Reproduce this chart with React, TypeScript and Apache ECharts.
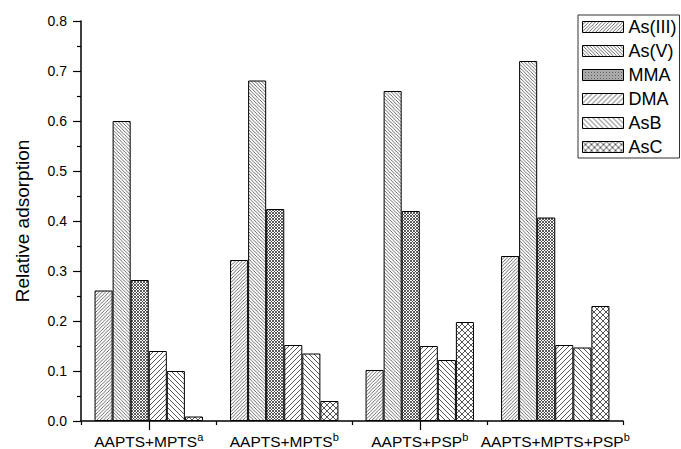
import React, { useEffect, useRef } from "react";
import * as echarts from "echarts";

const categories = ["AAPTS+MPTS|a", "AAPTS+MPTS|b", "AAPTS+PSP|b", "AAPTS+MPTS+PSP|b"];
const seriesNames = ["As(III)", "As(V)", "MMA", "DMA", "AsB", "AsC"];
const asIII = [0.261, 0.322, 0.102, 0.33];
const asV = [0.6, 0.681, 0.66, 0.72];
const mma = [0.282, 0.424, 0.42, 0.407];
const dma = [0.14, 0.152, 0.15, 0.152];
const asB = [0.1, 0.135, 0.122, 0.147];
const asC = [0.009, 0.04, 0.198, 0.23];
const yTicks = { min: 0, max: 0.8, interval: 0.1 };

const FONT = "'Liberation Sans', Arial, Helvetica, sans-serif";

function svgUrl(svg: string) {
  return "data:image/svg+xml;charset=utf-8," + encodeURIComponent(svg);
}

function hatch(s: number, dir: "/" | "\\" | "x", stroke: string, w: number) {
  const fwd = `M0,${s} L${s},0 M${-s / 2},${s / 2} L${s / 2},${-s / 2} M${s / 2},${s * 1.5} L${s * 1.5},${s / 2}`;
  const back = `M0,0 L${s},${s} M${-s / 2},${s / 2} L${s / 2},${s * 1.5} M${s / 2},${-s / 2} L${s * 1.5},${s / 2}`;
  const d = dir === "/" ? fwd : dir === "\\" ? back : fwd + " " + back;
  const svg = `<svg xmlns="http://www.w3.org/2000/svg" width="${s}" height="${s}" viewBox="0 0 ${s} ${s}"><rect width="${s}" height="${s}" fill="#ffffff"/><path d="${d}" stroke="${stroke}" stroke-width="${w}" fill="none"/></svg>`;
  return { image: svgUrl(svg), repeat: "repeat", imageWidth: s, imageHeight: s } as any;
}

const patterns = [
  hatch(3.4, "/", "#444", 0.8),
  hatch(3.4, "\\", "#444", 0.8),
  hatch(3, "x", "#333", 0.8),
  hatch(5, "/", "#444", 0.9),
  hatch(5, "\\", "#444", 0.9),
  hatch(6, "x", "#444", 0.9),
];

export default function App() {
  const ref = useRef<HTMLDivElement>(null);
  useEffect(() => {
    if (!ref.current) return;
    const chart = echarts.init(ref.current, null, { renderer: "svg" });
    const data = [asIII, asV, mma, dma, asB, asC];
    const labelFmt = (v: string) => {
      const [main, sup] = v.split("|");
      return `{n|${main}}{s|${sup}}`;
    };
    chart.setOption({
      animation: false,
      backgroundColor: "#ffffff",
      grid: { left: 81, right: 58, top: 21, bottom: 27, containLabel: false },
      legend: {
        orient: "vertical",
        left: 578,
        top: 15,
        padding: [3, 3, 2, 4],
        itemWidth: 41,
        itemHeight: 11,
        itemGap: 6,
        borderColor: "#333",
        borderWidth: 1,
        icon: "rect",
        itemStyle: { borderColor: "#000", borderWidth: 1 },
        textStyle: { fontFamily: FONT, fontSize: 18, color: "#000", padding: [0, 0, 0, 0] },
        data: seriesNames,
      },
      xAxis: [
        {
          type: "category",
          data: categories,
          axisLine: { lineStyle: { color: "#000", width: 1.5 } },
          axisTick: { show: true, alignWithLabel: false, length: 4, lineStyle: { color: "#000", width: 1.2 } },
          axisLabel: {
            formatter: labelFmt,
            margin: 10,
            interval: 0,
            rich: {
              n: { fontFamily: FONT, fontSize: 15.5, color: "#000", lineHeight: 18, verticalAlign: "bottom" },
              s: { fontFamily: FONT, fontSize: 11, color: "#000", lineHeight: 11, verticalAlign: "top" },
            },
          },
        },
        {
          type: "category",
          data: categories,
          position: "bottom",
          axisLine: { show: false },
          axisTick: { show: true, alignWithLabel: true, length: 9, lineStyle: { color: "#000", width: 1.2 } },
          axisLabel: { show: false },
        },
      ],
      yAxis: {
        type: "value",
        min: yTicks.min,
        max: yTicks.max,
        interval: yTicks.interval,
        name: "Relative adsorption",
        nameLocation: "middle",
        nameGap: 49,
        nameRotate: 90,
        nameTextStyle: { fontFamily: FONT, fontSize: 19, color: "#000" },
        axisLine: { show: true, lineStyle: { color: "#000", width: 1.5 } },
        axisTick: { show: true, length: 8, lineStyle: { color: "#000", width: 1.2 } },
        minorTick: { show: true, splitNumber: 2, length: 4, lineStyle: { color: "#000", width: 1.2 } },
        splitLine: { show: false },
        axisLabel: {
          fontFamily: FONT,
          fontSize: 14,
          color: "#000",
          margin: 14,
          formatter: (v: number) => v.toFixed(1),
        },
      },
      series: seriesNames.map((name, i) => ({
        name,
        type: "bar",
        xAxisIndex: 0,
        data: data[i],
        barGap: "0%",
        barCategoryGap: "20%",
        itemStyle: { color: patterns[i], borderColor: "#000", borderWidth: 1 },
        emphasis: { disabled: true },
      })),
    });
    return () => chart.dispose();
  }, []);
  return (
    <div
      ref={ref}
      style={{ position: "fixed", left: 0, top: 0, width: 681, height: 449, background: "#fff" }}
    />
  );
}
